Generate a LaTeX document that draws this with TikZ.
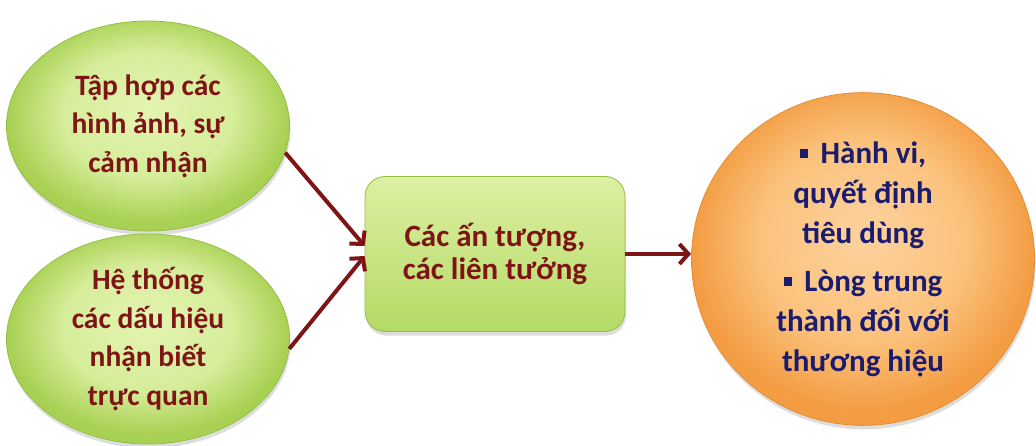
\documentclass[tikz,border=0pt]{standalone}
\usepackage{fontspec}
\setmainfont{Carlito}
\usetikzlibrary{arrows.meta,shadows,shapes.geometric}

\definecolor{wine}{HTML}{7E1416}
\definecolor{navy}{HTML}{1C1C6E}
\definecolor{leafline}{HTML}{93BE42}
\definecolor{leaftop}{HTML}{DDF0A2}
\definecolor{leafbot}{HTML}{B4DA66}
\definecolor{peachline}{HTML}{E38E36}
\definecolor{leafA}{HTML}{E4F4B2}
\definecolor{leafB}{HTML}{D6ED9A}
\definecolor{leafC}{HTML}{A8D052}
\definecolor{peachA}{HTML}{FDD29E}
\definecolor{peachB}{HTML}{FBC27C}
\definecolor{peachC}{HTML}{F39C42}

% soft radial fills: flat light body, darker rim
\pgfdeclareradialshading{leafglow}{\pgfpoint{0bp}{4bp}}{%
  color(0bp)=(leafA); color(15bp)=(leafB); color(25bp)=(leafC); color(50bp)=(leafC)}
\pgfdeclareradialshading{peachglow}{\pgfpoint{0bp}{4bp}}{%
  color(0bp)=(peachA); color(15bp)=(peachB); color(25bp)=(peachC); color(50bp)=(peachC)}

\newcommand{\sqbullet}{\raisebox{0.17em}{\rule{0.27em}{0.27em}}\hspace{0.4em}}

\tikzset{
  softshadow/.style={drop shadow={shadow xshift=1pt,shadow yshift=-4pt,opacity=0.22,fill=black!60}},
  greenoval/.style={ellipse, inner sep=0pt, minimum width=283pt, minimum height=210pt,
    shading=leafglow, draw=leafline, line width=0.8pt,
    softshadow, text=wine, align=center,
    font=\fontsize{29.5}{38.5}\selectfont\bfseries},
  greenbox/.style={rectangle, rounded corners=20pt, inner sep=0pt, minimum width=260pt, minimum height=155pt,
    top color=leaftop, bottom color=leafbot, draw=leafline, line width=0.8pt,
    softshadow, text=wine, align=center,
    font=\fontsize{31}{33}\selectfont\bfseries},
  orangeoval/.style={ellipse, inner sep=0pt, minimum width=343pt, minimum height=298pt,
    shading=peachglow, draw=peachline, line width=0.8pt,
    softshadow, text=navy, align=center,
    font=\fontsize{31}{40}\selectfont\bfseries},
  flow/.style={draw=wine, line width=4pt, -{Straight Barb[length=9pt,width=20pt,line width=4pt]}},
}

\begin{document}
\begin{tikzpicture}[x=1pt,y=-1pt]
  \useasboundingbox (0,0) rectangle (1036,446);

  % inputs
  \node[greenoval] (img) at (148,126)
    {Tập hợp các\\hình ảnh, sự\\cảm nhận};
  \node[greenoval] (sign) at (148,339)
    {Hệ thống\\các dấu hiệu\\nhận biết\\trực quan};

  % intermediate stage
  \node[greenbox] (imp) at (495,254)
    {Các ấn tượng,\\các liên tưởng};

  % outcome
  \node[orangeoval] (out) at (863,259)
    {\sqbullet Hành vi,\\quyết định\\tiêu dùng\\[8pt]\sqbullet Lòng trung\\thành đối với\\thương hiệu};

  % connectors
  \draw[flow] (img.-11) -- ([yshift=8pt]imp.west);
  \draw[flow] (sign.-4) -- ([yshift=-2pt]imp.west);
  \draw[flow] (imp.east) -- (imp.east -| out.west);
\end{tikzpicture}
\end{document}
